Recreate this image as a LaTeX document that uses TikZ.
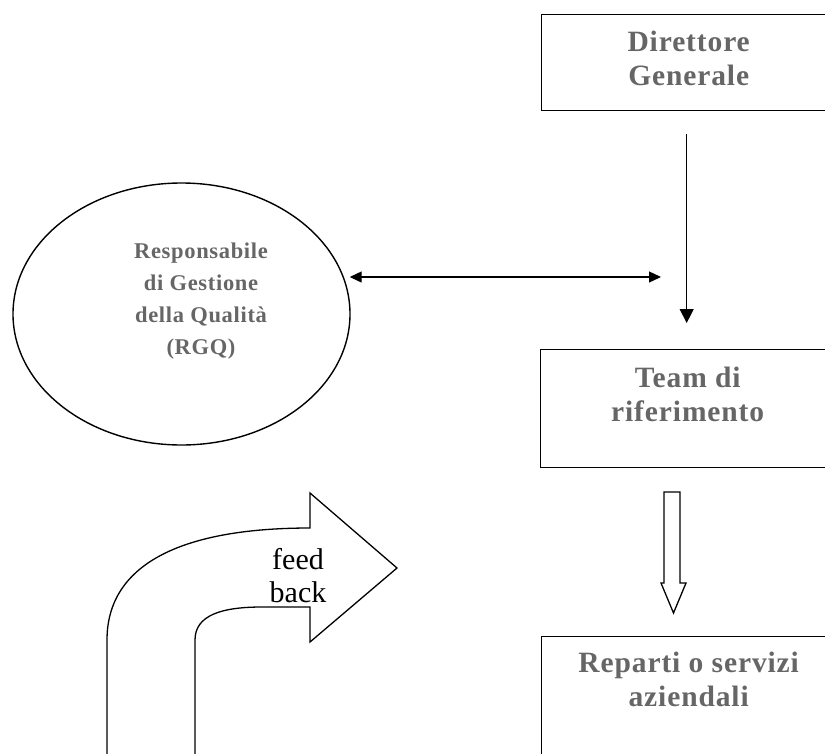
\documentclass[tikz,border=0pt]{standalone}
\usepackage{fontspec}
\setmainfont{Liberation Serif}
\newfontfamily\boxfont[LetterSpace=3]{Liberation Serif}
\usetikzlibrary{positioning,arrows.meta,shapes.geometric}

\begin{document}
\begin{tikzpicture}[
  x=1pt, y=-1pt,
  box/.style={draw, line width=1.4pt, minimum width=294pt, anchor=north west, inner sep=0pt},
  lbl/.style={font=\boxfont\bfseries\fontsize{29.5}{34}\selectfont, align=center, inner sep=0pt, text=black!60},
  elltxt/.style={font=\boxfont\bfseries\fontsize{22.5}{32}\selectfont, align=center, inner sep=0pt, text=black!60},
  arr/.style={-{Triangle[length=14pt, width=14pt]}, line width=1.2pt},
  arrboth/.style={{Triangle[length=12pt, width=11pt]}-{Triangle[length=12pt, width=11pt]}, line width=1.2pt},
  blockarr/.style={draw, line width=1.3pt, line join=miter},
]
\useasboundingbox (0,0) rectangle (825,753);
\clip (0,0) rectangle (825,753);

% boxes on the right (cut by the page edge)
\node[box, minimum height=96pt] (dg) at (541,14) {};
\node[lbl, below=17pt of dg.north] (dglbl) {Direttore\\Generale};
\node[box, minimum height=118pt] (team) at (540,349) {};
\node[lbl, below=18pt of team.north] (teamlbl) {Team di\\riferimento};
\node[box, minimum height=140pt] (rep) at (541,636) {};
\node[lbl, below=16pt of rep.north] (replbl) {Reparti o servizi\\aziendali};

% quality manager
\node[draw, ellipse, line width=1.4pt, minimum width=337pt, minimum height=262pt, inner sep=0pt] (rgq) at (181.5,314) {};
\node[elltxt] (rgqlbl) at (201,301) {Responsabile\\di Gestione\\della Qualità\\(RGQ)};

% connectors
\coordinate (meet) at (661,277);
\draw[arrboth, shorten <=6pt] (meet -| rgq.13) -- (meet);
\draw[arr, shorten <=23pt, shorten >=26pt] ([xshift=-2pt]dg.south) -- ([xshift=-2pt]dg.south |- team.north);

% hollow arrow team -> reparti
\draw[blockarr] (664,492) -- (680,492) -- (680,583) -- (686,583) -- (673.5,613)
  -- (661,583) -- (664,583) -- cycle;

% feed back arrow
\draw[blockarr] (107,760) -- (107,640) .. controls (107,565) and (180,528) .. (310,528)
  -- (310,493) -- (397,568) -- (310,642) -- (310,607) -- (262,607)
  .. controls (222,607) and (195,615) .. (195,640) -- (195,760);
\node[font=\fontsize{30}{33}\selectfont, align=center, inner sep=0pt] (fb) at (298,576) {feed\\back};
\end{tikzpicture}
\end{document}
